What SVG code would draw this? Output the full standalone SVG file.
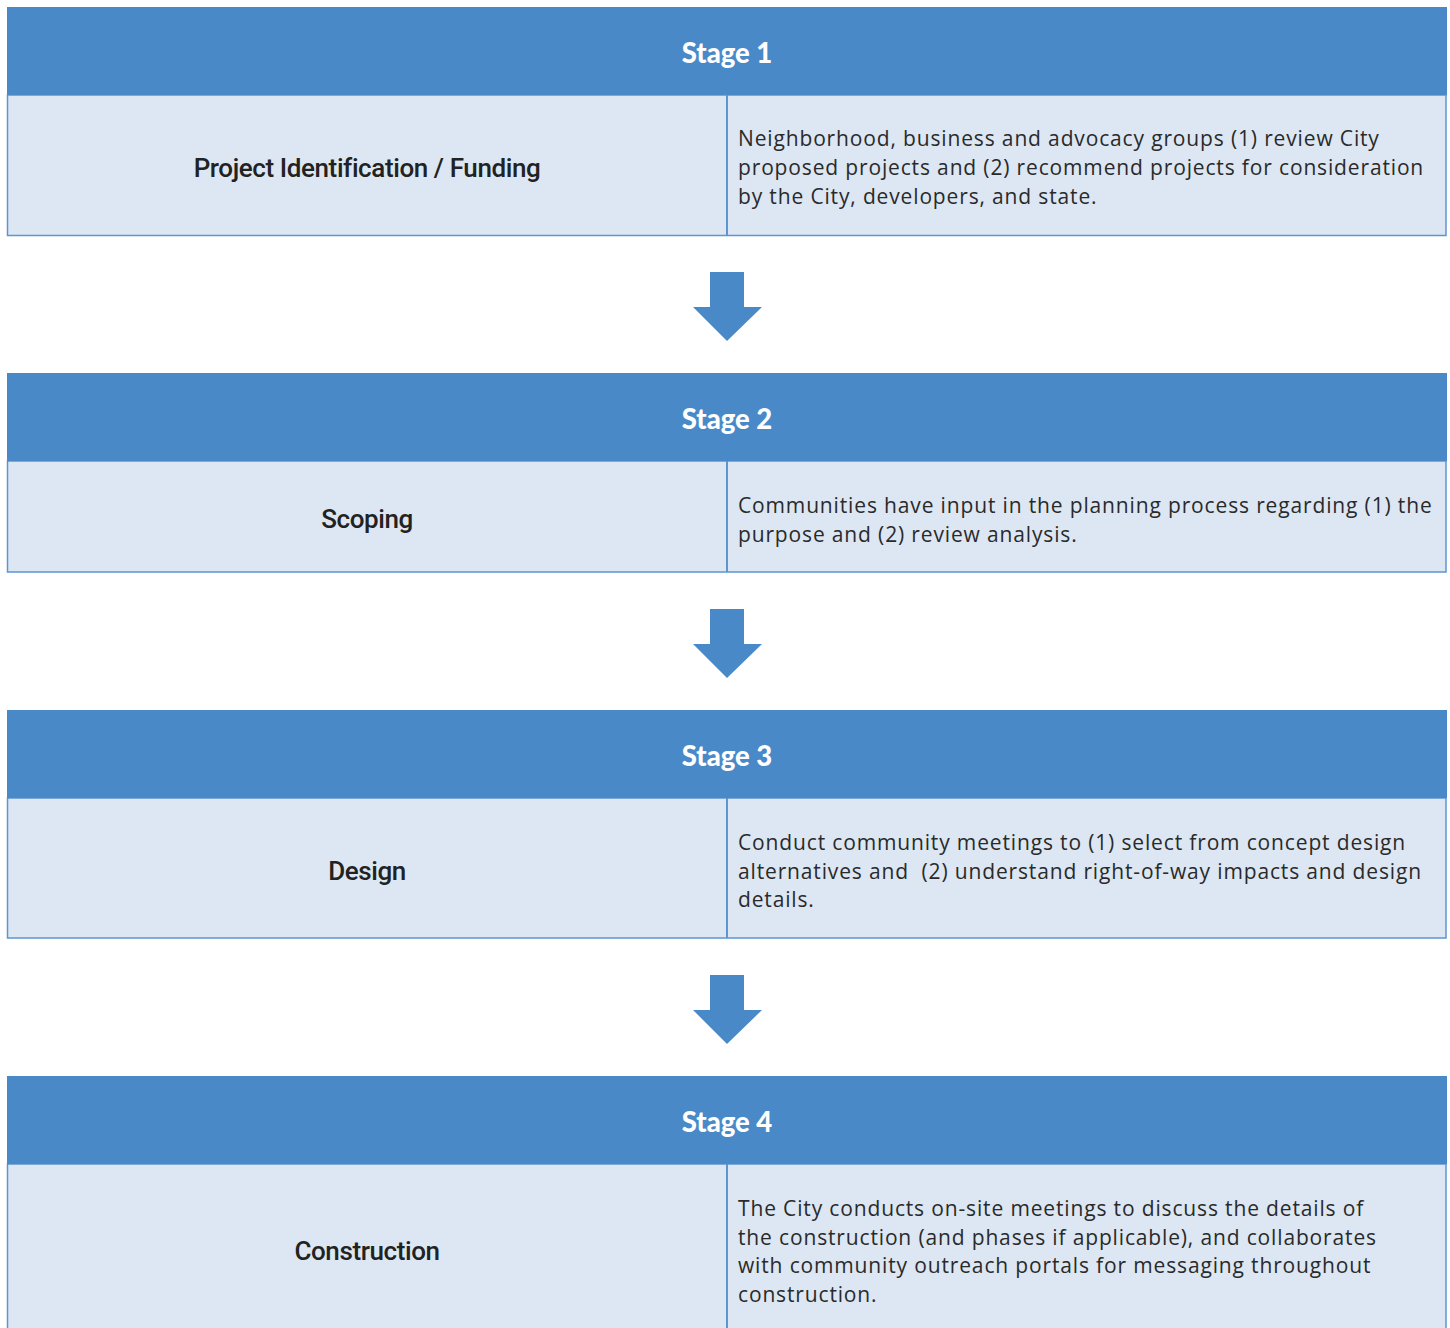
<svg xmlns="http://www.w3.org/2000/svg" width="1450" height="1328" viewBox="0 0 1450 1328">
<style>
.hdr{fill:#4a89c8;}
.body{fill:#dce7f3;stroke:#5b95d2;stroke-width:1.5;}
.div{stroke:#5b95d2;stroke-width:2;}
.st{font-family:Lato,"Liberation Sans",sans-serif;font-weight:900;font-size:27.5px;fill:#ffffff;text-anchor:middle;}
.lb{font-family:Roboto,"Liberation Sans",sans-serif;font-weight:500;font-size:26px;fill:#222222;text-anchor:middle;letter-spacing:-0.4px;}
.tx{font-family:"Open Sans","Liberation Sans",sans-serif;font-size:21px;letter-spacing:0.85px;fill:#2a2a2a;}
.arr{fill:#4a89c8;}
</style>
<rect width="1450" height="1328" fill="#ffffff"/>
<g id="stage1">
<rect class="body" x="7.5" y="95" width="1438.5" height="140.5"/>
<rect class="hdr" x="7" y="7" width="1440" height="88"/>
<line class="div" x1="727" y1="95" x2="727" y2="236"/>
<text class="st" x="727" y="63">Stage 1</text>
<text class="lb" x="367" y="177">Project Identification / Funding</text>
<text class="tx"><tspan x="738" y="146">Neighborhood, business and advocacy groups (1) review City</tspan><tspan x="738" y="175">proposed projects and (2) recommend projects for consideration</tspan><tspan x="738" y="204">by the City, developers, and state.</tspan></text>
</g>
<g id="stage2">
<rect class="body" x="7.5" y="461" width="1438.5" height="111"/>
<rect class="hdr" x="7" y="373" width="1440" height="88"/>
<line class="div" x1="727" y1="461" x2="727" y2="572"/>
<text class="st" x="727" y="429">Stage 2</text>
<text class="lb" x="367" y="528">Scoping</text>
<text class="tx"><tspan x="738" y="513">Communities have input in the planning process regarding (1) the</tspan><tspan x="738" y="542">purpose and (2) review analysis.</tspan></text>
</g>
<g id="stage3">
<rect class="body" x="7.5" y="798" width="1438.5" height="140"/>
<rect class="hdr" x="7" y="710" width="1440" height="88"/>
<line class="div" x1="727" y1="798" x2="727" y2="938"/>
<text class="st" x="727" y="766">Stage 3</text>
<text class="lb" x="367" y="880">Design</text>
<text class="tx"><tspan x="738" y="850">Conduct community meetings to (1) select from concept design</tspan><tspan x="738" y="879">alternatives and&#160; (2) understand right-of-way impacts and design</tspan><tspan x="738" y="907">details.</tspan></text>
</g>
<g id="stage4">
<rect class="body" x="7.5" y="1164" width="1438.5" height="170"/>
<rect class="hdr" x="7" y="1076" width="1440" height="88"/>
<line class="div" x1="727" y1="1164" x2="727" y2="1328"/>
<text class="st" x="727" y="1132">Stage 4</text>
<text class="lb" x="367" y="1260">Construction</text>
<text class="tx"><tspan x="738" y="1216">The City conducts on-site meetings to discuss the details of</tspan><tspan x="738" y="1245">the construction (and phases if applicable), and collaborates</tspan><tspan x="738" y="1273">with community outreach portals for messaging throughout</tspan><tspan x="738" y="1302">construction.</tspan></text>
</g>
<g id="connectors">
<polygon class="arr" points="710,272 744,272 744,307 762,307 727,341 693,307 710,307"/>
<polygon class="arr" points="710,609 744,609 744,644 762,644 727,678 693,644 710,644"/>
<polygon class="arr" points="710,975 744,975 744,1010 762,1010 727,1044 693,1010 710,1010"/>
</g>
</svg>
